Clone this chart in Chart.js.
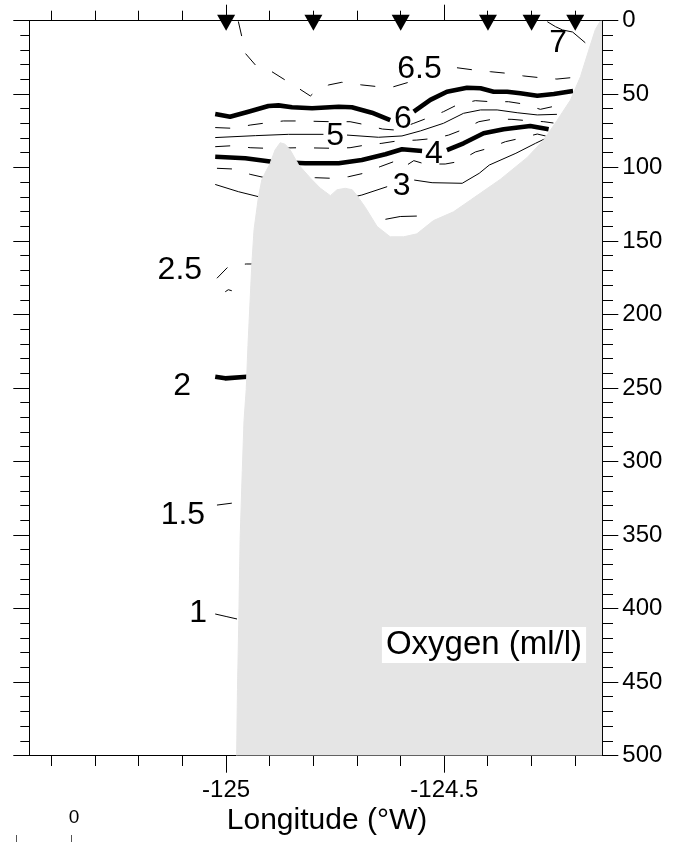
<!DOCTYPE html>
<html>
<head>
<meta charset="utf-8">
<script src="https://cdn.jsdelivr.net/npm/chart.js@4.4.1/dist/chart.umd.min.js"></script>
<style>
  html, body { margin: 0; padding: 0; background: #fff; }
  canvas { display: block; }
</style>
</head>
<body>
<canvas id="chart" width="684" height="842"></canvas>
<script>
//RANGOS DE LA SECCION
var lonMin = -125.451, lonMax = -124.138;
var profMin = 0, profMax = 500;

//ESTACIONES (triangulos arriba)
var estaciones = [-125, -124.8, -124.6, -124.4, -124.3, -124.2];

//FONDO [longitud, profundidad]
var fondo = [
    [-124.976, 500], [-124.974, 455], [-124.971, 408], [-124.968, 353], [-124.963, 306],
    [-124.959, 272], [-124.954, 251], [-124.950, 221], [-124.945, 190], [-124.941, 165],
    [-124.936, 142], [-124.926, 120], [-124.918, 108], [-124.908, 102], [-124.899, 97],
    [-124.888, 88], [-124.876, 83], [-124.865, 84], [-124.853, 88], [-124.834, 98],
    [-124.807, 107], [-124.784, 114], [-124.761, 119], [-124.746, 115], [-124.727, 114],
    [-124.711, 115], [-124.700, 119], [-124.681, 127], [-124.654, 140], [-124.624, 147],
    [-124.593, 147], [-124.563, 145], [-124.525, 136], [-124.479, 130], [-124.440, 122],
    [-124.372, 108], [-124.310, 93], [-124.272, 81], [-124.242, 68], [-124.211, 54],
    [-124.188, 38], [-124.169, 20], [-124.154, 6], [-124.142, 0], [-124.138, 0]
];

//ISOLINEAS DE OXIGENO (null = hueco para la etiqueta)
var iso7 = [[-124.264, 0.7], [-124.245, 4.1], [-124.229, 6.3], [-124.206, 7.7], [-124.177, 15.0]];
var iso65 = [
    [-124.972, 0.5], [-124.964, 10.9], [-124.956, 22.2], [-124.933, 30.1], [-124.895, 34.7],
    [-124.865, 40.3], [-124.834, 46.0], [-124.807, 51.2], [-124.796, 48.3], [-124.765, 43.7],
    [-124.735, 41.9], [-124.689, 43.7], [-124.651, 44.9], [-124.616, 44.9], [-124.582, 41.9],
    null,
    [-124.471, 32.0], [-124.433, 33.5], [-124.394, 34.7], [-124.356, 35.8], [-124.318, 37.6],
    [-124.280, 38.8], [-124.242, 39.7], [-124.211, 38.8]
];
var iso6 = [
    [-125.025, 63.5], [-124.991, 65.3], [-124.949, 61.9], [-124.903, 58.0], [-124.880, 57.6],
    [-124.849, 58.9], [-124.803, 59.6], [-124.742, 58.5], [-124.712, 58.9], [-124.666, 62.6],
    [-124.624, 67.6],
    null,
    [-124.570, 61.9], [-124.532, 53.9], [-124.494, 48.3], [-124.448, 45.6], [-124.417, 46.0],
    [-124.387, 48.3], [-124.356, 48.3], [-124.326, 49.4], [-124.287, 51.0], [-124.249, 49.9],
    [-124.205, 47.8]
];
var iso55 = [
    [-125.025, 72.7], [-124.984, 73.2], [-124.945, 71.0], [-124.915, 69.8], [-124.869, 68.2],
    [-124.830, 68.2], [-124.761, 68.7], [-124.716, 68.7], [-124.686, 70.5], [-124.642, 73.7],
    [-124.612, 74.4], [-124.570, 69.8], [-124.540, 66.4], [-124.502, 61.9], [-124.471, 57.3],
    [-124.429, 54.4], [-124.394, 55.1], [-124.353, 55.1], [-124.318, 56.7], [-124.280, 60.3],
    [-124.245, 58.0], [-124.227, 56.7]
];
var iso5 = [
    [-125.025, 79.5], [-124.933, 78.2], [-124.857, 77.3], [-124.777, 77.3],
    null,
    [-124.723, 77.8], [-124.651, 79.3], [-124.597, 78.4], [-124.555, 75.0], [-124.502, 69.8],
    [-124.456, 63.0], [-124.417, 60.7], [-124.379, 60.7], [-124.333, 62.6], [-124.287, 64.1],
    [-124.242, 63.7]
];
var iso45 = [
    [-125.025, 85.7], [-124.983, 85.0], [-124.945, 86.4], [-124.907, 86.8], [-124.830, 86.4],
    [-124.754, 86.8], [-124.716, 86.4], [-124.681, 84.6], [-124.643, 83.4], [-124.608, 81.8],
    [-124.563, 81.2], [-124.521, 80.0], [-124.490, 77.8], [-124.456, 73.9], [-124.421, 68.7],
    [-124.387, 66.9], [-124.345, 67.1], [-124.310, 68.0], [-124.272, 68.7], [-124.250, 69.6]
];
var iso4 = [
    [-125.025, 92.5], [-124.956, 93.6], [-124.895, 95.9], [-124.819, 97.0], [-124.742, 97.0],
    [-124.689, 94.8], [-124.635, 90.9], [-124.597, 87.5], [-124.551, 88.6],
    null,
    [-124.494, 88.0], [-124.456, 83.4], [-124.410, 76.6], [-124.364, 73.9], [-124.303, 71.6],
    [-124.261, 73.9]
];
var iso35 = [
    [-125.021, 100.4], [-124.983, 100.9], [-124.945, 104.5], [-124.911, 106.8], [-124.853, 107.3],
    [-124.796, 106.8], [-124.758, 107.2], [-124.719, 106.1], [-124.685, 103.8], [-124.647, 99.3],
    [-124.616, 95.9], [-124.596, 100.2], [-124.570, 95.2], [-124.544, 97.5], [-124.498, 97.5],
    [-124.468, 95.9], [-124.429, 89.3], [-124.399, 86.8], [-124.360, 82.3], [-124.326, 80.0],
    [-124.287, 77.1], [-124.268, 78.4]
];
var iso3 = [
    [-125.025, 111.4], [-124.972, 116.3], [-124.926, 119.7], [-124.830, 125.4], [-124.739, 122.0],
    [-124.689, 118.6], [-124.631, 112.9],
    null,
    [-124.569, 108.4], [-124.528, 110.2], [-124.459, 110.6], [-124.420, 103.8], [-124.397, 98.2],
    [-124.336, 90.2], [-124.291, 83.4], [-124.261, 79.1]
];
var iso25 = [
    [-125.021, 175.2], [-124.995, 167.3], [-124.975, 166.2], [-124.954, 165.5], [-124.938, 165.5],
    null,
    [-125.002, 184.4], [-124.995, 183.0], [-124.987, 183.7]
];
var iso25b = [[-124.635, 135.1], [-124.601, 133.2], [-124.563, 132.9]];
var iso2 = [[-125.025, 242.2], [-125.002, 243.3], [-124.952, 242.2]];
var iso15 = [[-125.021, 329.5], [-124.984, 328.1]];
var iso1 = [[-125.025, 403.6], [-125.000, 405.3], [-124.975, 407.0]];

//ETIQUETAS DE LAS ISOLINEAS
var etiquetas = ['7', '6.5', '6', '5', '4', '3', '2.5', '2', '1.5', '1'];
var etiqLon = [-124.239, -124.557, -124.595, -124.750, -124.524, -124.598, -125.106, -125.101, -125.099, -125.064];
var etiqProf = [15.2, 32.7, 67.2, 78.3, 90.5, 112.9, 169.6, 248.5, 336.3, 402.9];

var fuente = '"Liberation Sans", Helvetica, Arial, sans-serif';
Chart.defaults.font.family = fuente;
Chart.defaults.color = '#000';

//pasa [lon, prof] a puntos de chart.js
function aPuntos(lista) {
    var pts = [];
    for (var i = 0; i < lista.length; i++) {
        if (lista[i] === null) {
            pts.push({ x: (lista[i - 1][0] + lista[i + 1][0]) / 2, y: null });
        } else {
            pts.push({ x: lista[i][0], y: lista[i][1] });
        }
    }
    return pts;
}

function isolinea(lista, grosor, trazos) {
    return {
        data: aPuntos(lista),
        borderColor: '#000',
        borderWidth: grosor,
        borderDash: trazos,
        borderJoinStyle: 'round',
        pointRadius: 0,
        tension: 0,
        fill: false,
        order: 1
    };
}

function esMayor(v, paso) {
    var r = v / paso;
    return Math.abs(r - Math.round(r)) < 1e-6;
}

var discont = [15, 18];

var datasets = [
    {
        //fondo gris, encima de las isolineas
        data: aPuntos(fondo),
        borderColor: 'rgb(229,229,229)',
        borderWidth: 1,
        backgroundColor: 'rgb(229,229,229)',
        fill: { value: profMax },
        pointRadius: 0,
        tension: 0,
        order: 0
    },
    isolinea(iso7, 1, []),
    isolinea(iso65, 1, discont),
    isolinea(iso6, 4.6, []),
    isolinea(iso55, 1, discont),
    isolinea(iso5, 1, []),
    isolinea(iso45, 1, discont),
    isolinea(iso4, 4.6, []),
    isolinea(iso35, 1, discont),
    isolinea(iso3, 1, []),
    isolinea(iso25, 1, discont),
    isolinea(iso25b, 1, [32, 18]),
    isolinea(iso2, 4.6, []),
    isolinea(iso15, 1, discont),
    isolinea(iso1, 1, [])
];

//TEXTOS Y TRIANGULOS
var extras = {
    id: 'extras',
    afterDraw: function (chart) {
        var ctx = chart.ctx;
        var sx = chart.scales.x;
        var sy = chart.scales.y;
        var area = chart.chartArea;
        ctx.save();

        //etiquetas de las isolineas
        ctx.fillStyle = '#000';
        ctx.font = '32px ' + fuente;
        ctx.textAlign = 'center';
        ctx.textBaseline = 'middle';
        for (var i = 0; i < etiquetas.length; i++) {
            ctx.fillText(etiquetas[i], sx.getPixelForValue(etiqLon[i]), sy.getPixelForValue(etiqProf[i]));
        }

        //triangulos de las estaciones
        for (var j = 0; j < estaciones.length; j++) {
            var px = sx.getPixelForValue(estaciones[j]);
            ctx.beginPath();
            ctx.moveTo(px - 9, area.top - 6);
            ctx.lineTo(px + 9, area.top - 6);
            ctx.lineTo(px, area.top + 10);
            ctx.closePath();
            ctx.fill();
        }

        //cuadro Oxygen
        ctx.font = '33px ' + fuente;
        var txt = 'Oxygen (ml/l)';
        var w = ctx.measureText(txt).width;
        var cx = 484, cy = 645;
        ctx.fillStyle = '#fff';
        ctx.fillRect(cx - w / 2 - 4, cy - 18, w + 8, 36);
        ctx.fillStyle = '#000';
        ctx.fillText(txt, cx, cy);

        //titulo del eje
        ctx.font = '30px ' + fuente;
        ctx.fillText('Longitude (\u00B0W)', 327, 821);

        //resto de una escala cortada abajo
        ctx.font = '19px ' + fuente;
        ctx.fillText('0', 74, 818);
        ctx.strokeStyle = '#555';
        ctx.lineWidth = 1;
        ctx.beginPath();
        ctx.moveTo(16.5, 835); ctx.lineTo(16.5, 842);
        ctx.moveTo(71.5, 835); ctx.lineTo(71.5, 842);
        ctx.stroke();
        ctx.restore();
    }
};

function ejeX(posicion, alto, trazoMenor) {
    return {
        type: 'linear',
        position: posicion,
        min: lonMin,
        max: lonMax,
        z: 1,
        border: { display: true, color: '#000', width: 1 },
        grid: {
            drawOnChartArea: false,
            tickLength: posicion === 'top' ? 16 : 17,
            tickColor: '#000',
            tickWidth: 1,
            tickBorderDash: function (c) { return esMayor(c.tick.value, 0.5) ? [] : trazoMenor; }
        },
        ticks: {
            stepSize: 0.1,
            includeBounds: false,
            autoSkip: false,
            maxRotation: 0,
            minRotation: 0,
            padding: 3,
            font: { size: 24 },
            callback: function (v) {
                if (posicion === 'top') return '';
                return esMayor(v, 0.5) ? String(Math.round(v * 10) / 10) : '';
            }
        },
        afterFit: function (s) { s.height = alto; }
    };
}

function ejeY(posicion, ancho, trazoMenor) {
    return {
        type: 'linear',
        position: posicion,
        reverse: true,
        min: profMin,
        max: profMax,
        z: 1,
        border: { display: true, color: '#000', width: 1 },
        grid: {
            drawOnChartArea: false,
            tickLength: 16,
            tickColor: '#000',
            tickWidth: 1,
            tickBorderDash: function (c) { return esMayor(c.tick.value, 50) ? [] : trazoMenor; }
        },
        ticks: {
            stepSize: 10,
            autoSkip: false,
            padding: 4,
            font: { size: 24 },
            callback: function (v) {
                if (posicion === 'left') return '';
                return esMayor(v, 50) ? String(v) : '';
            }
        },
        afterFit: function (s) { s.width = ancho; }
    };
}

var miGrafica = new Chart(document.getElementById('chart'), {
    type: 'line',
    data: { datasets: datasets },
    options: {
        responsive: false,
        animation: false,
        layout: { padding: 0 },
        plugins: {
            legend: { display: false },
            tooltip: { enabled: false }
        },
        scales: {
            x: ejeX('bottom', 86.3, [10, 100]),
            xt: ejeX('top', 20.7, [0, 6, 10, 100]),
            y: ejeY('right', 81.7, [10, 100]),
            yl: ejeY('left', 29.3, [0, 7, 9, 100])
        }
    },
    plugins: [extras]
});
</script>
</body>
</html>
